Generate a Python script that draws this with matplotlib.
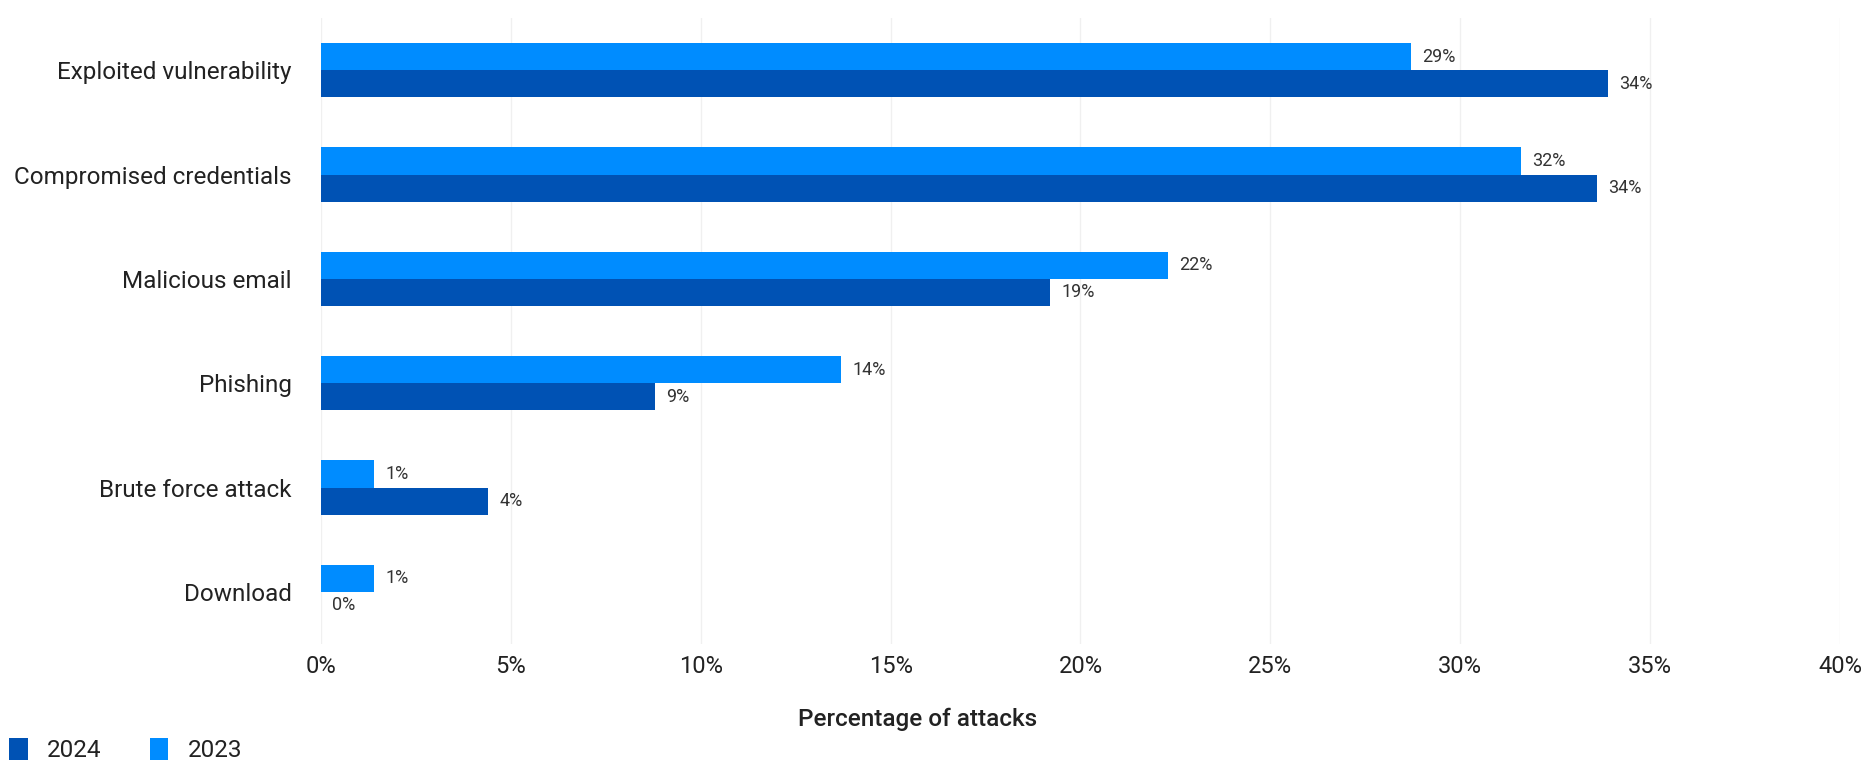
import numpy as np
import matplotlib
matplotlib.use("Agg")
import matplotlib.pyplot as plt
from matplotlib.patches import Patch

plt.rcParams['font.family'] = ['Roboto', 'DejaVu Sans']

categories = ['Exploited vulnerability', 'Compromised credentials', 'Malicious email',
              'Phishing', 'Brute force attack', 'Download']
values_2023 = [28.7, 31.6, 22.3, 13.7, 1.4, 1.4]
values_2024 = [33.9, 33.6, 19.2, 8.8, 4.4, 0.0]
labels_2023 = ['29%', '32%', '22%', '14%', '1%', '1%']
labels_2024 = ['34%', '34%', '19%', '9%', '4%', '0%']
xticks = [0, 5, 10, 15, 20, 25, 30, 35, 40]

c2023 = '#008cff'
c2024 = '#0052b4'
text_col = '#222222'

fig = plt.figure(figsize=(18.64, 7.61), dpi=100)
ax = fig.add_axes([0.1722, 0.1537, 0.8149, 0.8226])

y = np.arange(len(categories))
h = 0.26
ax.barh(y - h / 2, values_2023, height=h, color=c2023, linewidth=0, zorder=3)
ax.barh(y + h / 2, values_2024, height=h, color=c2024, linewidth=0, zorder=3)

for yi, v, lab in zip(y, values_2023, labels_2023):
    ax.annotate(lab, (v, yi - h / 2), xytext=(8, 0), textcoords='offset points',
                va='center', ha='left', fontsize=13, color='#333333')
for yi, v, lab in zip(y, values_2024, labels_2024):
    ax.annotate(lab, (v, yi + h / 2), xytext=(8, 0), textcoords='offset points',
                va='center', ha='left', fontsize=13, color='#333333')

ax.set_xlim(0, 40)
ax.set_ylim(5.5, -0.5)
ax.set_xticks(xticks)
ax.set_xticklabels([f'{t}%' for t in xticks])
ax.set_yticks(y)
ax.set_yticklabels(categories)
ax.tick_params(axis='y', length=0, pad=21, labelsize=17.5, labelcolor=text_col)
ax.tick_params(axis='x', length=0, pad=8, labelsize=17, labelcolor=text_col)
ax.grid(axis='x', color='#f0f0f0', linewidth=1, zorder=0)
for s in ax.spines.values():
    s.set_visible(False)

fig.text(0.492, 1 - 719 / 761, 'Percentage of attacks', ha='center', va='center',
         fontsize=17.5, fontweight='medium', color=text_col)

handles = [Patch(facecolor=c2024, label='2024'), Patch(facecolor=c2023, label='2023')]
fig.legend(handles=handles, loc='upper left', bbox_to_anchor=(0.005, 1 - 738 / 761), ncol=2,
           frameon=False, fontsize=17.5, handlelength=0.75, handleheight=1.0,
           handletextpad=0.8, columnspacing=2.0, borderaxespad=0, borderpad=0,
           labelcolor=text_col)

fig.savefig('out.png', dpi=100)
